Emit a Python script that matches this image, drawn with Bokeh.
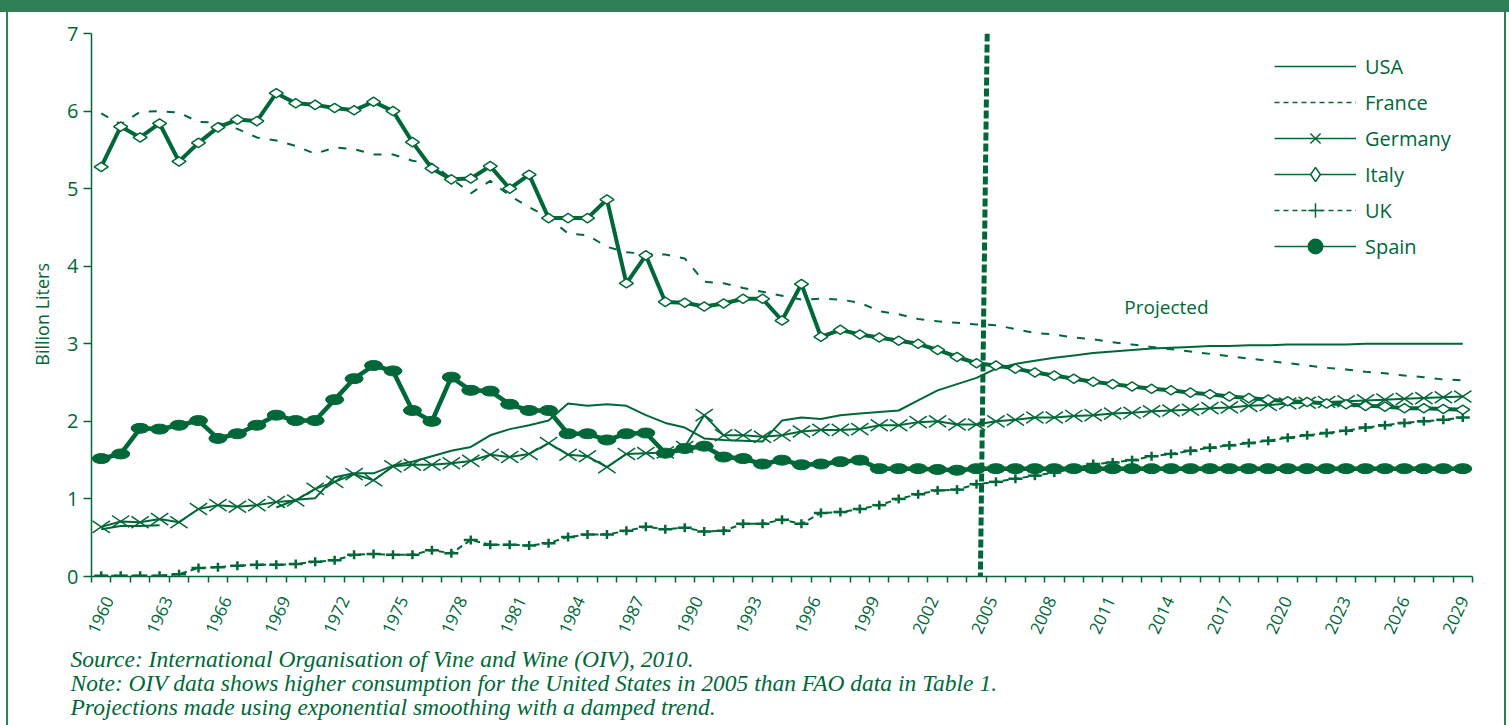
import math
from bokeh.plotting import figure
from bokeh.layouts import column, row
from bokeh.models import (Range1d, FixedTicker, CustomJSTickFormatter, Legend, LegendItem,
                          Label, Title, Div)
from bokeh.embed import file_html
from bokeh.resources import INLINE

nan = float("nan")

# ---------------- data ----------------
years = list(range(1960, 2031))

usa = [0.61, 0.65, 0.65, 0.66, nan, nan, nan, nan, nan, 0.89,
       0.99, 1.01, 1.28, 1.33, 1.33, 1.43, 1.48, 1.55, 1.62, 1.67,
       1.82, 1.90, 1.95, 2.01, 2.23, 2.20, 2.22, 2.20, 2.08, 1.98,
       1.92, 1.78, 1.76, 1.75, 1.74, 2.01, 2.05, 2.03, 2.08, 2.10,
       2.12, 2.14, 2.27, 2.40, 2.48, 2.56, 2.68, 2.74, 2.78, 2.82,
       2.85, 2.88, 2.90, 2.92, 2.94, 2.95, 2.96, 2.97, 2.97, 2.98,
       2.98, 2.99, 2.99, 2.99, 2.99, 3.00, 3.00, 3.00, 3.00, 3.00,
       3.00]

france = [5.97, 5.83, 5.99, 6.00, 5.98, 5.86, 5.85, 5.77, 5.66, 5.62,
          5.55, 5.45, 5.53, 5.51, 5.44, 5.44, 5.36, 5.32, 5.13, 4.94,
          5.10, 4.91, 4.76, 4.63, 4.42, 4.40, 4.25, 4.18, 4.16, 4.15,
          4.10, 3.80, 3.78, 3.72, 3.67, 3.62, 3.57, 3.58, 3.57, 3.53,
          3.42, 3.38, 3.32, 3.29, 3.27, 3.25, 3.24, 3.19, 3.14, 3.12,
          3.08, 3.06, 3.02, 2.99, 2.96, 2.93, 2.90, 2.87, 2.84, 2.81,
          2.78, 2.75, 2.72, 2.69, 2.67, 2.64, 2.62, 2.59, 2.57, 2.54,
          2.53]

germany = [0.64, 0.71, 0.70, 0.74, 0.70, 0.87, 0.92, 0.90, 0.92, 0.96,
           0.98, 1.13, 1.22, 1.32, 1.24, 1.42, 1.44, 1.44, 1.46, 1.49,
           1.57, 1.54, 1.58, 1.72, 1.57, 1.55, 1.41, 1.58, 1.59, 1.60,
           1.67, 2.08, 1.82, 1.82, 1.80, 1.82, 1.87, 1.89, 1.89, 1.90,
           1.95, 1.95, 1.99, 2.00, 1.96, 1.96, 2.00, 2.02, 2.05, 2.05,
           2.07, 2.08, 2.10, 2.11, 2.13, 2.14, 2.15, 2.17, 2.18, 2.20,
           2.21, 2.23, 2.24, 2.25, 2.26, 2.27, 2.28, 2.29, 2.30, 2.31,
           2.32]

italy = [5.28, 5.80, 5.66, 5.84, 5.35, 5.59, 5.79, 5.89, 5.87, 6.23,
         6.10, 6.08, 6.04, 6.01, 6.12, 6.00, 5.60, 5.26, 5.12, 5.13,
         5.29, 5.00, 5.18, 4.62, 4.62, 4.62, 4.86, 3.78, 4.14, 3.54,
         3.53, 3.48, 3.52, 3.58, 3.58, 3.30, 3.77, 3.09, 3.18, 3.12,
         3.08, 3.04, 3.00, 2.92, 2.83, 2.75, 2.72, 2.68, 2.63, 2.59,
         2.55, 2.51, 2.48, 2.45, 2.42, 2.40, 2.37, 2.35, 2.32, 2.30,
         2.28, 2.26, 2.25, 2.23, 2.22, 2.20, 2.19, 2.17, 2.17, 2.16,
         2.15]

uk = [0.01, 0.01, 0.01, 0.01, 0.03, 0.11, 0.12, 0.14, 0.15, 0.15,
      0.16, 0.19, 0.21, 0.28, 0.29, 0.28, 0.28, 0.34, 0.30, 0.47,
      0.41, 0.41, 0.40, 0.43, 0.51, 0.54, 0.54, 0.59, 0.64, 0.61,
      0.63, 0.58, 0.59, 0.68, 0.68, 0.73, 0.68, 0.82, 0.83, 0.87,
      0.92, 1.00, 1.06, 1.11, 1.12, 1.19, 1.22, 1.26, 1.30, 1.34,
      1.39, 1.45, 1.47, 1.50, 1.55, 1.58, 1.62, 1.66, 1.69, 1.72,
      1.75, 1.79, 1.82, 1.85, 1.88, 1.92, 1.95, 1.98, 2.00, 2.02,
      2.05]

spain = [1.52, 1.58, 1.91, 1.90, 1.95, 2.01, 1.78, 1.84, 1.95, 2.08,
         2.01, 2.01, 2.28, 2.55, 2.72, 2.65, 2.14, 2.00, 2.57, 2.40,
         2.39, 2.22, 2.14, 2.14, 1.84, 1.84, 1.76, 1.84, 1.85, 1.59,
         1.65, 1.68, 1.54, 1.52, 1.45, 1.50, 1.44, 1.45, 1.48, 1.50,
         1.39, 1.39, 1.39, 1.38, 1.37, 1.39, 1.39, 1.39, 1.39, 1.39,
         1.39, 1.39, 1.39, 1.39, 1.39, 1.39, 1.39, 1.39, 1.39, 1.39,
         1.39, 1.39, 1.39, 1.39, 1.39, 1.39, 1.39, 1.39, 1.39, 1.39,
         1.39]

label_years = list(range(1960, 2030, 3))
y_ticks = [0, 1, 2, 3, 4, 5, 6, 7]
projection_divider = (2005.55, 2005.2)   # top x, bottom x
projected_text = "Projected"
y_title = "Billion Liters"
notes = [
    "Source: International Organisation of Vine and Wine (OIV), 2010.",
    "Note: OIV data shows higher consumption for the United States in 2005 than FAO data in Table 1.",
    "Projections made using exponential smoothing with a damped trend.",
]

# ---------------- style ----------------
GREEN = "#006838"
BAND = "#2F7F57"
FONT = "Open Sans"
PAGE_W, PAGE_H = 1509, 725
BAND_H = 12
W, H = 1496, PAGE_H - BAND_H

p = figure(width=W, height=H,
           x_range=Range1d(years[0] - 0.5, years[-1] + 0.5),
           y_range=Range1d(0, 7),
           output_backend="svg", toolbar_location=None,
           min_border_left=83, min_border_right=32,
           min_border_top=21, min_border_bottom=149)
p.xgrid.visible = False
p.ygrid.visible = False
p.outline_line_color = None
p.background_fill_color = "white"
p.border_fill_color = "white"

# x axis: ticks at category boundaries, labels every 3 years
boundaries = [y - 0.5 for y in years] + [years[-1] + 0.5]
stretch, shift = 0.0095, 0.40
label_pos = [y + (y - years[0]) * stretch + shift for y in label_years]
xa = p.xaxis[0]
xa.ticker = FixedTicker(ticks=label_pos, minor_ticks=boundaries)
xa.formatter = CustomJSTickFormatter(
    args=dict(pos=label_pos, labels=[str(y) for y in label_years]),
    code="""
let best = 0, bd = 1e9;
for (let i = 0; i < pos.length; i++) { const d = Math.abs(pos[i] - tick); if (d < bd) { bd = d; best = i; } }
return labels[best];
""")
xa.major_tick_out = 0
xa.major_tick_in = 0
xa.minor_tick_out = 6
xa.minor_tick_in = 0
xa.minor_tick_line_color = GREEN
xa.minor_tick_line_width = 1.5
xa.axis_line_color = GREEN
xa.axis_line_width = 1.5
xa.major_label_orientation = math.radians(65)
xa.major_label_text_font = FONT
xa.major_label_text_font_size = "17px"
xa.major_label_text_color = GREEN
xa.major_label_standoff = 15

ya = p.yaxis[0]
ya.ticker = FixedTicker(ticks=y_ticks)
ya.major_tick_out = 8
ya.major_tick_in = 0
ya.minor_tick_out = 0
ya.minor_tick_in = 0
ya.major_tick_line_color = GREEN
ya.major_tick_line_width = 1.5
ya.axis_line_color = GREEN
ya.axis_line_width = 1.5
ya.major_label_text_font = FONT
ya.major_label_text_font_size = "20px"
ya.major_label_text_color = GREEN
ya.major_label_standoff = 5
ya.axis_label = y_title + "\u00a0" * 4
ya.axis_label_text_font = FONT
ya.axis_label_text_font_size = "18px"
ya.axis_label_text_font_style = "normal"
ya.axis_label_text_color = GREEN
ya.axis_label_standoff = 10

# ---------------- series ----------------
p.line(years, france, line_color=GREEN, line_width=2, line_dash="8 10")
p.line(years, usa, line_color=GREEN, line_width=2)

p.line(years, germany, line_color=GREEN, line_width=2)
p.scatter(years, germany, marker="dash", size=21, angle=0.6, line_color=GREEN, line_width=1.5)
p.scatter(years, germany, marker="dash", size=21, angle=-0.6, line_color=GREEN, line_width=1.5)

p.line(years, uk, line_color=GREEN, line_width=2, line_dash="6 4")
p.scatter(years, uk, marker="dash", size=14, line_color=GREEN, line_width=2.5)
p.scatter(years, uk, marker="dash", size=9, angle=math.pi / 2, line_color=GREEN, line_width=2.5)

p.line(years, spain, line_color=GREEN, line_width=4.5)
p.ellipse(x=years, y=spain, width=18, height=10, width_units="screen", height_units="screen",
          fill_color=GREEN, line_color=GREEN)

p.line(years, italy, line_color=GREEN, line_width=4)
p.scatter(years, italy, marker="diamond", size=14, angle=math.pi / 2,
          fill_color="white", line_color=GREEN, line_width=1.5)

# projection divider
p.segment(x0=[projection_divider[0]], y0=[7], x1=[projection_divider[1]], y1=[0],
          line_color=GREEN, line_width=5, line_dash="8 3")

p.add_layout(Label(x=2012.6, y=3.47, text=projected_text, text_baseline="middle",
                   text_font=FONT, text_font_size="19px", text_color=GREEN))

# ---------------- legend ----------------
def legend_item(name, dash="solid", marker=None, fill="white"):
    rs = [p.line([nan], [nan], line_color=GREEN, line_width=1.5, line_dash=dash)]
    if marker:
        rs.append(p.scatter([nan], [nan], marker=marker, size=14,
                            line_color=GREEN, fill_color=fill, line_width=1.5))
    return LegendItem(label=name, renderers=rs)

items = [
    legend_item("USA"),
    legend_item("France", dash="5 4"),
    legend_item("Germany", marker="x"),
    legend_item("Italy", marker="diamond"),
    legend_item("UK", dash="5 4", marker="cross"),
    legend_item("Spain", marker="circle", fill=GREEN),
]
legend = Legend(items=items, location=(1183, 312), orientation="vertical",
                glyph_width=82, glyph_height=36, spacing=0, padding=0, margin=0,
                label_standoff=9, border_line_alpha=0, background_fill_alpha=0,
                label_text_font=FONT, label_text_font_size="20px", label_text_color=GREEN)
p.add_layout(legend)

# ---------------- notes below the chart ----------------
p.add_layout(Title(text="\n".join(notes), align="left", offset=-21, standoff=8,
                   text_font="Liberation Serif", text_font_style="italic",
                   text_font_size="23.5px", text_line_height=0.93, text_color=GREEN), "below")

# ---------------- page frame ----------------
band = Div(width=PAGE_W, height=BAND_H, margin=0, styles={"background-color": BAND})
left_pad = Div(width=6, height=H, margin=0)
left_line = Div(width=2, height=H, margin=0, styles={"background-color": BAND})
right_line = Div(width=2, height=H, margin=0, styles={"background-color": BAND})
right_pad = Div(width=PAGE_W - 6 - 2 - W - 2, height=H, margin=0)
layout = column(band, row(left_pad, left_line, p, right_line, right_pad, spacing=0),
                spacing=0, margin=0)

open("out.html", "w").write(file_html(layout, INLINE))
